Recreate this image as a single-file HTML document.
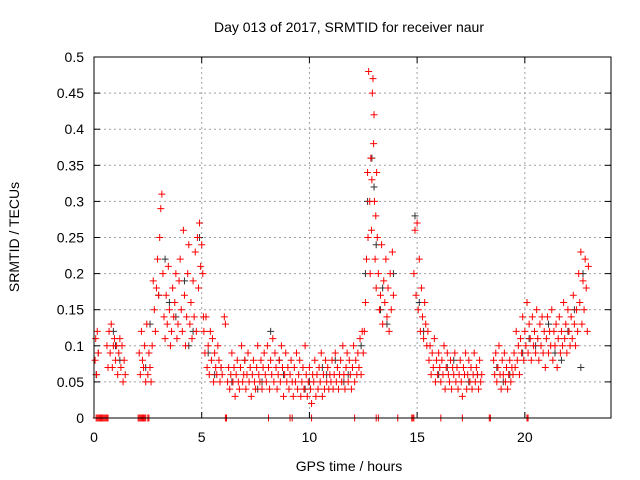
<!DOCTYPE html>
<html><head><meta charset="utf-8"><style>
body{margin:0;background:#fff}
svg{display:block;font-family:"Liberation Sans",sans-serif}
</style></head><body>
<svg id="chart" width="640" height="480" viewBox="0 0 640 480">
<text x="349" y="32" font-size="14" text-anchor="middle">Day 013 of 2017, SRMTID for receiver naur</text>
<text x="349" y="471" font-size="14" text-anchor="middle">GPS time / hours</text>
<text transform="translate(19,237) rotate(-90)" font-size="14" text-anchor="middle">SRMTID / TECUs</text>
<g id="grid"></g><g id="ticks"></g><g id="black"></g><g id="red"></g>
<rect x="94" y="57" width="517" height="361" fill="none" stroke="#000" stroke-width="1"/>
</svg>
<script>
const xTicks=[0,5,10,15,20];
const yTicks=[0,0.05,0.1,0.15,0.2,0.25,0.3,0.35,0.4,0.45,0.5];
const yTickLabels=["0","0.05","0.1","0.15","0.2","0.25","0.3","0.35","0.4","0.45","0.5"];
// red series: [hour, TECU]
const redPoints=[
[0.05,0.08],[0.08,0.11],[0.12,0.06],[0.15,0.12],[0.2,0.09],[0.6,0.1],[0.65,0.07],
[0.7,0.12],[0.75,0.09],[0.8,0.13],[0.85,0.07],[0.9,0.1],[0.95,0.11],[1.0,0.08],[1.05,0.1],[1.1,0.06],[1.15,0.09],[1.2,0.11],[1.25,0.07],[1.3,0.1],[1.35,0.05],[1.4,0.08],[1.45,0.06],
[2.1,0.09],[2.15,0.06],[2.2,0.12],[2.25,0.08],[2.3,0.07],[2.35,0.1],[2.4,0.05],[2.45,0.13],[2.5,0.06],[2.55,0.09],[2.6,0.07],[2.65,0.05],[2.7,0.1],
[2.75,0.19],[2.8,0.15],[2.85,0.12],[2.9,0.18],[2.95,0.22],[3.0,0.17],[3.05,0.25],[3.1,0.29],[3.15,0.31],[3.2,0.2],[3.25,0.14],[3.3,0.11],[3.35,0.17],[3.4,0.13],[3.45,0.21],[3.5,0.15],[3.55,0.1],[3.6,0.12],[3.65,0.18],[3.7,0.14],[3.75,0.16],[3.8,0.2],[3.85,0.11],[3.9,0.13],[3.95,0.19],
[4.0,0.22],[4.05,0.15],[4.1,0.12],[4.15,0.26],[4.2,0.17],[4.25,0.1],[4.3,0.14],[4.35,0.2],[4.4,0.24],[4.45,0.13],[4.5,0.16],[4.55,0.11],[4.6,0.19],[4.65,0.14],[4.7,0.23],[4.75,0.12],[4.8,0.25],[4.85,0.18],[4.9,0.27],[4.95,0.21],[5.0,0.24],[5.05,0.2],[5.08,0.14],
[5.1,0.12],[5.15,0.09],[5.2,0.14],[5.25,0.07],[5.3,0.1],[5.35,0.06],[5.4,0.12],[5.45,0.08],[5.5,0.11],[5.55,0.05],[5.6,0.09],[5.65,0.07],[5.7,0.06],[5.75,0.1],[5.8,0.08],[5.85,0.05],[5.9,0.07],[5.95,0.06],[6.05,0.14],[6.1,0.13],
[6.2,0.05],[6.25,0.07],[6.3,0.04],[6.35,0.06],[6.4,0.09],[6.45,0.05],[6.5,0.07],[6.55,0.03],[6.6,0.06],[6.65,0.08],[6.7,0.05],[6.75,0.04],[6.8,0.07],[6.85,0.1],[6.9,0.05],[6.95,0.06],
[7.0,0.08],[7.05,0.04],[7.1,0.06],[7.15,0.09],[7.2,0.05],[7.25,0.07],[7.3,0.03],[7.35,0.06],[7.4,0.08],[7.45,0.05],[7.5,0.04],[7.55,0.07],[7.6,0.1],[7.65,0.06],[7.7,0.05],[7.75,0.08],[7.8,0.04],[7.85,0.07],[7.9,0.09],[7.95,0.06],
[8.0,0.05],[8.05,0.1],[8.1,0.07],[8.15,0.04],[8.2,0.08],[8.25,0.06],[8.3,0.11],[8.35,0.05],[8.4,0.09],[8.45,0.07],[8.5,0.04],[8.55,0.06],[8.6,0.08],[8.65,0.05],[8.7,0.1],[8.75,0.07],[8.8,0.03],[8.85,0.06],[8.9,0.09],[8.95,0.05],
[9.0,0.07],[9.05,0.04],[9.1,0.06],[9.15,0.08],[9.2,0.05],[9.25,0.03],[9.3,0.07],[9.35,0.05],[9.4,0.09],[9.45,0.04],[9.5,0.06],[9.55,0.08],[9.6,0.03],[9.65,0.05],[9.7,0.07],[9.75,0.04],[9.8,0.1],[9.85,0.06],[9.9,0.03],[9.95,0.05],
[10.0,0.07],[10.05,0.04],[10.1,0.02],[10.15,0.06],[10.2,0.05],[10.25,0.08],[10.3,0.03],[10.35,0.06],[10.4,0.04],[10.45,0.07],[10.5,0.05],[10.55,0.09],[10.6,0.03],[10.65,0.06],[10.7,0.04],[10.75,0.08],[10.8,0.05],[10.85,0.07],[10.9,0.04],[10.95,0.06],
[11.0,0.05],[11.05,0.08],[11.1,0.04],[11.15,0.06],[11.2,0.09],[11.25,0.05],[11.3,0.07],[11.35,0.04],[11.4,0.06],[11.45,0.08],[11.5,0.05],[11.55,0.1],[11.6,0.06],[11.65,0.04],[11.7,0.07],[11.75,0.09],[11.8,0.05],[11.85,0.08],[11.9,0.06],[11.95,0.04],
[12.0,0.07],[12.05,0.1],[12.1,0.05],[12.15,0.08],[12.2,0.06],[12.25,0.09],[12.3,0.07],[12.35,0.11],[12.4,0.06],[12.45,0.12],[12.5,0.09],
[12.55,0.12],[12.6,0.16],[12.65,0.22],[12.7,0.34],[12.72,0.25],[12.75,0.48],[12.8,0.3],[12.82,0.2],[12.85,0.36],[12.88,0.26],[12.9,0.33],[12.92,0.45],[12.95,0.47],[12.98,0.38],[13.0,0.42],[13.02,0.3],[13.05,0.22],[13.08,0.28],[13.1,0.18],[13.12,0.34],[13.15,0.25],[13.2,0.2],[13.25,0.15],[13.3,0.17],[13.35,0.24],[13.4,0.13],[13.45,0.19],[13.5,0.16],[13.55,0.22],[13.6,0.14],[13.65,0.18],[13.7,0.12],[13.75,0.2],[13.8,0.15],[13.85,0.23],[13.9,0.17],
[14.85,0.2],[14.9,0.26],[14.95,0.17],[15.0,0.27],[15.05,0.15],[15.1,0.22],[15.15,0.12],[15.2,0.18],[15.25,0.14],[15.3,0.11],[15.35,0.16],[15.4,0.13],[15.45,0.1],[15.5,0.12],
[15.55,0.08],[15.6,0.1],[15.65,0.06],[15.7,0.09],[15.75,0.07],[15.8,0.11],[15.85,0.05],[15.9,0.08],[15.95,0.06],[16.0,0.09],[16.05,0.07],[16.1,0.05],[16.15,0.08],[16.2,0.06],[16.25,0.1],[16.3,0.04],[16.35,0.07],[16.4,0.09],[16.45,0.06],[16.5,0.05],[16.55,0.08],[16.6,0.04],[16.65,0.07],[16.7,0.06],[16.75,0.09],[16.8,0.05],[16.85,0.07],[16.9,0.04],[16.95,0.06],[17.0,0.08],[17.05,0.05],[17.1,0.03],[17.15,0.07],[17.2,0.06],[17.25,0.09],[17.3,0.04],[17.35,0.06],[17.4,0.08],[17.45,0.05],[17.5,0.07],[17.55,0.04],[17.6,0.06],[17.65,0.09],[17.7,0.05],[17.75,0.07],[17.8,0.06],[17.85,0.04],[17.9,0.08],[17.95,0.05],[18.0,0.06],
[18.55,0.08],[18.6,0.06],[18.65,0.09],[18.7,0.05],[18.75,0.07],[18.8,0.1],[18.85,0.06],[18.9,0.04],[18.95,0.08],[19.0,0.06],[19.05,0.09],[19.1,0.05],[19.15,0.07],[19.2,0.04],[19.25,0.06],[19.3,0.08],[19.35,0.05],[19.4,0.07],[19.45,0.06],
[19.5,0.09],[19.55,0.07],[19.6,0.12],[19.65,0.08],[19.7,0.1],[19.75,0.06],[19.8,0.11],[19.85,0.09],[19.9,0.14],[19.95,0.08],[20.0,0.12],[20.05,0.1],[20.1,0.16],[20.15,0.09],[20.2,0.13],[20.25,0.11],[20.3,0.08],[20.35,0.14],[20.4,0.1],[20.45,0.12],[20.5,0.09],[20.55,0.15],[20.6,0.11],[20.65,0.08],[20.7,0.13],[20.75,0.1],[20.8,0.14],[20.85,0.09],[20.9,0.12],[20.95,0.07],
[21.0,0.11],[21.05,0.14],[21.1,0.09],[21.15,0.12],[21.2,0.1],[21.25,0.15],[21.3,0.08],[21.35,0.12],[21.4,0.1],[21.45,0.13],[21.5,0.07],[21.55,0.11],[21.6,0.14],[21.65,0.09],[21.7,0.12],[21.75,0.1],[21.8,0.16],[21.85,0.11],[21.9,0.13],[21.95,0.09],[22.0,0.15],[22.05,0.12],[22.1,0.1],[22.15,0.14],[22.2,0.11],[22.25,0.17],[22.3,0.13],[22.35,0.1],[22.4,0.15],[22.45,0.12],
[22.5,0.2],[22.55,0.16],[22.6,0.23],[22.65,0.13],[22.7,0.19],[22.75,0.15],[22.8,0.22],[22.85,0.18],[22.9,0.12],[22.95,0.21]
];
// zero-value red markers along the axis
const zeroTimes=[0.1,0.15,0.2,0.25,0.3,0.35,0.4,0.45,0.5,0.55,0.6,0.65,2.05,2.1,2.15,2.2,2.25,2.3,2.35,2.4,2.5,2.55,6.1,6.15,8.1,9.1,9.2,10.1,12.1,13.1,13.2,14.1,14.75,14.8,14.85,16.1,17.1,18.35,18.4,20.1,20.15];
// black series
const blackPoints=[[0.1,0.06],[0.9,0.12],[1.2,0.08],[2.6,0.13],[3.0,0.17],[3.3,0.22],[3.8,0.14],[4.2,0.19],[4.6,0.12],[4.9,0.25],[5.3,0.09],[5.9,0.07],[6.4,0.05],[7.0,0.08],[7.6,0.04],[8.2,0.12],[8.8,0.06],[9.4,0.09],[10.0,0.05],[10.6,0.07],[11.2,0.08],[11.8,0.06],[12.4,0.1],[12.7,0.3],[12.9,0.36],[13.1,0.24],[13.3,0.15],[13.6,0.13],[13.9,0.2],[14.9,0.28],[15.3,0.12],[16.0,0.06],[16.7,0.08],[17.4,0.05],[18.7,0.07],[19.3,0.06],[19.9,0.09],[20.5,0.1],[21.1,0.13],[21.7,0.08],[22.3,0.15],[22.7,0.2],[0.2,0.09],[1.0,0.1],[2.4,0.07],[3.5,0.16],[4.4,0.1],[5.6,0.06],[6.8,0.07],[7.8,0.05],[8.6,0.08],[9.8,0.04],[10.8,0.06],[11.6,0.05],[12.6,0.2],[13.0,0.32],[13.4,0.18],[15.1,0.16],[16.4,0.07],[17.8,0.06],[19.0,0.05],[20.2,0.11],[21.4,0.09],[22.0,0.12],[22.6,0.07]];

const X=t=>94+t*517/24, Y=v=>418-v*722;
const ns="http://www.w3.org/2000/svg";
function mk(tag,attrs,parent){const e=document.createElementNS(ns,tag);for(const k in attrs)e.setAttribute(k,attrs[k]);parent.appendChild(e);return e;}
const grid=document.getElementById('grid'),ticks=document.getElementById('ticks');
yTicks.forEach((v,i)=>{
  if(i>0){const g=mk('line',{x1:94,x2:611,y1:Y(v),y2:Y(v),stroke:'#a0a0a0','stroke-dasharray':'2,3'},grid);
  
  }
  const t=mk('text',{x:84,y:Y(v)+5,'font-size':14,'text-anchor':'end'},ticks);t.textContent=yTickLabels[i];
  
  
  mk('line',{x1:94,x2:100,y1:Y(v),y2:Y(v),stroke:'#000'},ticks);
  mk('line',{x1:605,x2:611,y1:Y(v),y2:Y(v),stroke:'#000'},ticks);
});
xTicks.forEach(v=>{
  if(v>0){const g=mk('line',{x1:X(v),x2:X(v),y1:57,y2:418,stroke:'#a0a0a0','stroke-dasharray':'2,3'},grid);
  
  }
  const t=mk('text',{x:X(v),y:442,'font-size':14,'text-anchor':'middle'},ticks);t.textContent=v;
  
  
  mk('line',{x1:X(v),x2:X(v),y1:418,y2:412,stroke:'#000'},ticks);
  mk('line',{x1:X(v),x2:X(v),y1:57,y2:63,stroke:'#000'},ticks);
});
function plot(pts,color,gid,name){
  const g=document.getElementById(gid);
  pts.forEach(p=>{const x=X(p[0]),y=Y(p[1]);
    const m=mk('path',{d:`M${x-3.5},${y}h7M${x},${y-3.5}v7`,stroke:color,'stroke-width':1,fill:'none'},g);
    
    
  });
}
plot(blackPoints,'#333','black','black-point');
plot(redPoints,'#f00','red','red-point');
plot(zeroTimes.map(t=>[t,0]),'#f00','red','red-zero-point');
</script>
</body></html>
